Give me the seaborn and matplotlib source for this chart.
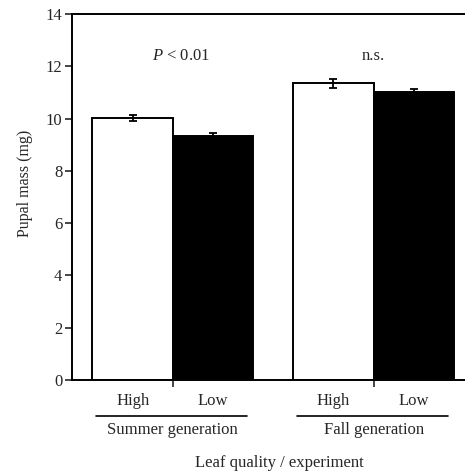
import pandas as pd
import numpy as np
import matplotlib
matplotlib.use("Agg")
import matplotlib.pyplot as plt
import matplotlib.transforms as mtransforms
import seaborn as sns

generations = ['Summer generation', 'Fall generation']
qualities = ['High', 'Low']
mass_high = [10.02, 11.35]
mass_low = [9.33, 11.03]
err_high = [0.10, 0.17]
err_low = [0.10, 0.12]
annotations = ['$P$ < 0.01', 'n.s.']

df = pd.DataFrame({
    'generation': generations * 2,
    'quality': ['High'] * 2 + ['Low'] * 2,
    'mass': mass_high + mass_low,
    'err': err_high + err_low,
})

sns.set_style('ticks')
plt.rcParams['font.family'] = ['Liberation Serif', 'DejaVu Serif']
plt.rcParams['mathtext.fontset'] = 'custom'
plt.rcParams['mathtext.it'] = 'Liberation Serif:italic'
plt.rcParams['mathtext.rm'] = 'Liberation Serif'

fig = plt.figure(figsize=(4.65, 4.74), dpi=100)
ax = fig.add_axes([72 / 465, 1 - 380 / 474, 1 - 72 / 465, (380 - 14) / 474])

sns.barplot(data=df, x='generation', y='mass', hue='quality', order=generations,
            hue_order=qualities, palette={'High': 'white', 'Low': 'black'},
            edgecolor='black', linewidth=1.4, width=0.8, errorbar=None,
            legend=False, ax=ax)

# error bars from bar geometry
for patch, (_, row) in zip(ax.patches, df.iterrows()):
    cx = patch.get_x() + patch.get_width() / 2
    ax.errorbar(cx, row['mass'], yerr=row['err'], color='black', lw=1.3,
                capsize=3, capthick=1.3, zorder=5)

ax.set_ylim(0, 14)
ax.set_xlim(-0.502, 1.455)
ax.set_yticks(np.arange(0, 15, 2))
ax.set_xticks([0, 1])
ax.set_xticklabels([])
ax.tick_params(axis='both', direction='out', length=5, width=1.2, labelsize=12, pad=2)
ax.set_ylabel('Pupal mass (mg)', fontsize=11.5)
ax.yaxis.set_label_coords(-0.099, 0.538)
ax.set_xlabel('')
for side in ['left', 'bottom', 'top']:
    ax.spines[side].set_visible(True)
    ax.spines[side].set_linewidth(1.4)
    ax.spines[side].set_color('black')
ax.spines['right'].set_visible(False)

trans = mtransforms.blended_transform_factory(ax.transData, fig.transFigure)
for i, gen in enumerate(generations):
    for j, q in enumerate(qualities):
        ax.text(i - 0.2 + 0.4 * j, 1 - 401 / 474, q, transform=trans,
                ha='center', va='center', fontsize=12)
    ax.plot([i - 0.38, i + 0.37], [1 - 416 / 474] * 2, color='black', lw=1.2,
            transform=trans, clip_on=False)
    ax.text(i, 1 - 430 / 474, gen, transform=trans, ha='center', va='center', fontsize=12)
    ax.text(i + 0.04 * (1 - i), 12.4, annotations[i], ha='center', va='center', fontsize=12)

fig.text(279 / 465, 1 - 463 / 474, 'Leaf quality / experiment', ha='center',
         va='center', fontsize=12)

fig.savefig('out.png', dpi=100)
